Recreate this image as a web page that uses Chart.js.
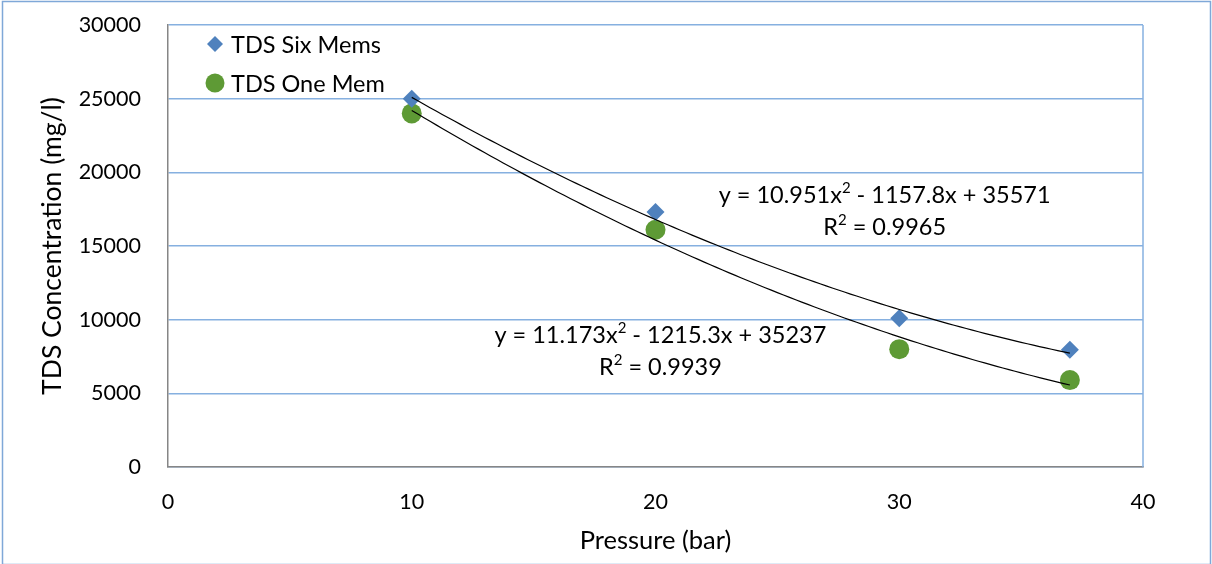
<!DOCTYPE html>
<html>
<head>
<meta charset="utf-8">
<script src="https://cdn.jsdelivr.net/npm/chart.js@4"></script>
<style>
  html, body { margin: 0; padding: 0; background: #fff; }
  #wrap { width: 1212px; height: 564px; }
</style>
</head>
<body>
<div id="wrap"><canvas id="tdsChart" width="1212" height="564"></canvas></div>
<script>
// measured data
var pressure = [10, 20, 30, 37];
var tdsSixMems = [25000, 17300, 10100, 7950];
var tdsOneMem = [24000, 16100, 8000, 5900];

// polynomial trendline coefficients (a, b, c) and R²
var fitSixMems = [10.951, -1157.8, 35571];
var fitOneMem = [11.173, -1215.3, 35237];
var r2SixMems = 0.9965;
var r2OneMem = 0.9939;

var FONT = 'Lato, "Open Sans", sans-serif';

function curve(coef, x0, x1) {
	var pts = [];
	for (var x = x0; x <= x1 + 1e-9; x += 0.25) {
		pts.push({ x: x, y: coef[0] * x * x + coef[1] * x + coef[2] });
	}
	return pts;
}

// equation split into [text, superscript?] pieces
function equation(coef) {
	var tail = (coef[1] < 0 ? ' - ' : ' + ') + Math.abs(coef[1]) + 'x' +
		(coef[2] < 0 ? ' - ' : ' + ') + Math.abs(coef[2]);
	return [['y = ' + coef[0] + 'x', false], ['2', true], [tail, false]];
}

function drawRich(ctx, parts, cx, cy, size) {
	var big = size + 'px ' + FONT, small = Math.round(size * 0.62) + 'px ' + FONT;
	var total = 0;
	parts.forEach(function(p) {
		ctx.font = p[1] ? small : big;
		total += ctx.measureText(p[0]).width;
	});
	var x = cx - total / 2;
	ctx.textAlign = 'left';
	parts.forEach(function(p) {
		ctx.font = p[1] ? small : big;
		ctx.fillText(p[0], x, p[1] ? cy - size * 0.3 : cy);
		x += ctx.measureText(p[0]).width;
	});
}

function points(ys) {
	return pressure.map(function(x, i) { return { x: x, y: ys[i] }; });
}

var blue = '#4F81BD';
var green = '#5E9A35';

// frame, legend and trendline equations
var decorations = {
	id: 'decorations',
	beforeDraw: function(chart) {
		var ctx = chart.ctx;
		ctx.save();
		ctx.fillStyle = '#fff';
		ctx.fillRect(0, 0, chart.width, chart.height);
		ctx.strokeStyle = '#7FA8D8';
		ctx.lineWidth = 1.5;
		ctx.strokeRect(2.5, 1.5, chart.width - 4, chart.height - 1);
		ctx.restore();
	},
	afterDatasetsDraw: function(chart) {
		var ctx = chart.ctx, area = chart.chartArea;
		var xs = chart.scales.x, ys = chart.scales.y;
		ctx.save();
		// right edge of plot area
		ctx.strokeStyle = '#86B0E0';
		ctx.lineWidth = 1.5;
		ctx.beginPath();
		ctx.moveTo(area.right, area.top);
		ctx.lineTo(area.right, area.bottom);
		ctx.stroke();

		// legend
		ctx.font = '23.5px ' + FONT;
		ctx.textBaseline = 'middle';
		ctx.textAlign = 'left';
		var lx = 215, ly = 44;
		ctx.fillStyle = blue;
		ctx.beginPath();
		ctx.moveTo(lx, ly - 8); ctx.lineTo(lx + 8, ly); ctx.lineTo(lx, ly + 8); ctx.lineTo(lx - 8, ly);
		ctx.closePath(); ctx.fill();
		ctx.fillStyle = '#000';
		ctx.fillText('TDS Six Mems', lx + 16, ly + 1);
		ly = 83;
		ctx.fillStyle = green;
		ctx.beginPath(); ctx.arc(lx, ly, 9.5, 0, Math.PI * 2); ctx.fill();
		ctx.fillStyle = '#000';
		ctx.fillText('TDS One Mem', lx + 16, ly + 1);

		// equations
		var labels = [
			{ coef: fitSixMems, r2: r2SixMems, x: 29.4, y: 18460 },
			{ coef: fitOneMem, r2: r2OneMem, x: 20.2, y: 8960 }
		];
		labels.forEach(function(l) {
			var px = xs.getPixelForValue(l.x), py = ys.getPixelForValue(l.y);
			drawRich(ctx, equation(l.coef), px, py, 23.5);
			drawRich(ctx, [['R', false], ['2', true], [' = ' + l.r2, false]], px, py + 32, 23.5);
		});
		ctx.restore();
	}
};

var ctx = document.getElementById('tdsChart');
var tdsChart = new Chart(ctx, {
	type: 'scatter',
	data: {
		datasets: [
			{
				label: 'Trend Six Mems',
				type: 'line',
				data: curve(fitSixMems, 10, 37),
				borderColor: '#000',
				borderWidth: 1.2,
				pointRadius: 0,
				fill: false,
				order: 0
			},
			{
				label: 'Trend One Mem',
				type: 'line',
				data: curve(fitOneMem, 10, 37),
				borderColor: '#000',
				borderWidth: 1.2,
				pointRadius: 0,
				fill: false,
				order: 0
			},
			{
				label: 'TDS Six Mems',
				data: points(tdsSixMems),
				pointStyle: 'rectRot',
				pointRadius: 9,
				backgroundColor: blue,
				borderColor: blue,
				borderWidth: 0,
				order: 1
			},
			{
				label: 'TDS One Mem',
				data: points(tdsOneMem),
				pointStyle: 'circle',
				pointRadius: 10,
				backgroundColor: green,
				borderColor: green,
				borderWidth: 0,
				order: 1
			}
		]
	},
	options: {
		responsive: false,
		animation: false,
		devicePixelRatio: 1,
		layout: { padding: { top: 25, right: 69, left: 0, bottom: 0 } },
		plugins: {
			legend: { display: false },
			tooltip: { enabled: false }
		},
		scales: {
			x: {
				type: 'linear',
				min: 0,
				max: 40,
				afterFit: function(s) { s.height = 97; },
				ticks: {
					stepSize: 10,
					padding: 22,
					color: '#000',
					font: { family: FONT, size: 21.5 },
					callback: function(v) { return String(v); }
				},
				grid: { display: false, drawTicks: false },
				border: { color: '#868686', width: 1.5 },
				title: {
					display: true,
					text: 'Pressure (bar)',
					color: '#000',
					font: { family: FONT, size: 25.5 },
					padding: { top: 0, bottom: 8 }
				}
			},
			y: {
				min: 0,
				max: 30000,
				afterFit: function(s) {
					s.width = 168;
					s.paddingTop = 0;
					s.paddingBottom = 0;
				},
				ticks: {
					stepSize: 5000,
					padding: 27,
					color: '#000',
					font: { family: FONT, size: 21.5 },
					callback: function(v) { return String(v); }
				},
				grid: { color: '#86B0E0', lineWidth: 1.5, drawTicks: false },
				border: { color: '#868686', width: 1.5 },
				title: {
					display: true,
					text: 'TDS Concentration (mg/l)',
					color: '#000',
					font: { family: FONT, size: 26.5 },
					padding: { top: 37, bottom: 0 }
				}
			}
		}
	},
	plugins: [decorations]
});
</script>
</body>
</html>
